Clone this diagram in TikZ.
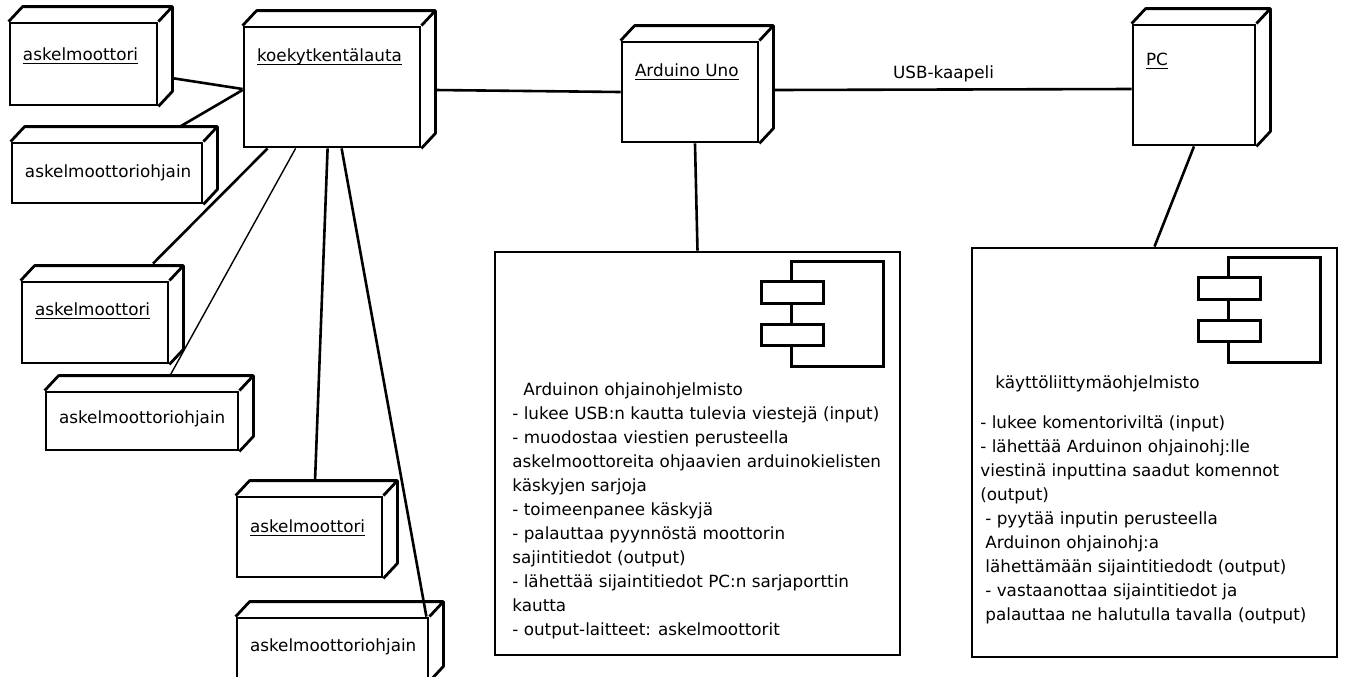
\documentclass[tikz,border=0pt]{standalone}
\usepackage{fontspec}
\setmainfont{DejaVu Sans}
\usepackage{tikz}

\begin{document}
\begin{tikzpicture}[x=0.5pt, y=-0.5pt,
    every node/.style={font=\fontsize{8.4}{12}\selectfont},
    device/.style={rectangle, draw, line width=1.4pt, inner sep=0pt},
    devlabel/.style={anchor=base west, xshift=7pt, yshift=-17.5pt, inner sep=0pt},
    conn/.style={line width=1.3pt},
    thinconn/.style={line width=0.7pt},
    swtext/.style={anchor=north west, align=left, inner sep=0pt}]
    \useasboundingbox (0,0) rectangle (1346,676);

    % Devices
    \node[device, minimum width=73.5pt, minimum height=41pt, label={[devlabel, yshift=-2pt]north west:\underline{\smash{askelmoottori}}}] (MOTOR1) at (83.5,64) {};
    \node[device, minimum width=95pt, minimum height=30pt, label={[devlabel, yshift=-0.5pt]north west:askelmoottoriohjain}] (DRIVER1) at (107,173) {};
    \node[device, minimum width=88pt, minimum height=60pt, label={[devlabel, yshift=-0.5pt]north west:\underline{\smash{koekytkentälauta}}}] (BOARD) at (332,87) {};
    \node[device, minimum width=73pt, minimum height=40.5pt, label={[devlabel]north west:\underline{\smash{askelmoottori}}}] (MOTOR2) at (95,322.5) {};
    \node[device, minimum width=96pt, minimum height=29pt, label={[devlabel, yshift=1pt]north west:askelmoottoriohjain}] (DRIVER2) at (142,421) {};
    \node[device, minimum width=72.5pt, minimum height=40pt, label={[devlabel, yshift=-1pt]north west:\underline{\smash{askelmoottori}}}] (MOTOR3) at (309.5,537) {};
    \node[device, minimum width=95.5pt, minimum height=31pt, label={[devlabel]north west:askelmoottoriohjain}] (DRIVER3) at (332.5,649) {};
    \node[device, minimum width=68pt, minimum height=50pt, label={[devlabel, yshift=-0.5pt]north west:\underline{\smash{Arduino Uno}}}] (ARDUINO) at (690,92) {};
    \node[device, minimum width=61pt, minimum height=60pt, label={[devlabel, yshift=-3.5pt]north west:\underline{\smash{PC}}}] (PC) at (1194,85) {};

    % 3D sides
    \foreach \n in {MOTOR1,DRIVER1,BOARD,MOTOR2,DRIVER2,MOTOR3,DRIVER3,ARDUINO,PC} {
        \draw[line width=1.4pt, line join=round] (\n.north west) -- ++(14,-15) -| ([shift={(14,-15)}]\n.south east) -- (\n.south east)
            (\n.north east) -- ++(14,-15);
    }

    % Software components
    \node[device, minimum width=202.5pt, minimum height=201.5pt] (ARDSW) at (697.5,453.5) {};
    \node[device, minimum width=182.5pt, minimum height=204.5pt] (PCSW) at (1154.5,452.5) {};

    \foreach \sw in {ARDSW,PCSW} {
        \draw[line width=1.4pt] ([shift={(-110,11)}]\sw.north east) rectangle ([shift={(-18,116)}]\sw.north east);
        \draw[line width=1.4pt, fill=white] ([shift={(-140,31)}]\sw.north east) rectangle ([shift={(-78,53)}]\sw.north east);
        \draw[line width=1.4pt, fill=white] ([shift={(-140,74)}]\sw.north east) rectangle ([shift={(-78,95)}]\sw.north east);
    }

    \node[swtext] (ARDTXT) at (512,382) {\hspace*{5.5pt}Arduinon ohjainohjelmisto\\
        - lukee USB:n kautta tulevia viestejä (input)\\
        - muodostaa viestien perusteella\\
        askelmoottoreita ohjaavien arduinokielisten\\
        käskyjen sarjoja\\
        - toimeenpanee käskyjä\\
        - palauttaa pyynnöstä moottorin\\
        sajintitiedot (output)\\
        - lähettää sijaintitiedot PC:n sarjaporttin\\
        kautta\\
        - output-laitteet: askelmoottorit};

    \node[swtext] (PCTXT) at (980,375) {\hspace*{7.5pt}käyttöliittymäohjelmisto\\[8pt]
        - lukee komentoriviltä (input)\\
        - lähettää Arduinon ohjainohj:lle\\
        viestinä inputtina saadut komennot\\
        (output)\\
        \hspace*{2.5pt}- pyytää inputin perusteella\\
        \hspace*{2.5pt}Arduinon ohjainohj:a\\
        \hspace*{2.5pt}lähettämään sijaintitiedodt (output)\\
        \hspace*{2.5pt}- vastaanottaa sijaintitiedot ja\\
        \hspace*{2.5pt}palauttaa ne halutulla tavalla (output)};

    % Connections
    \draw[conn] ([yshift=-1pt]BOARD.west) -- ([xshift=6.5pt,yshift=-7pt]MOTOR1.east);
    \draw[conn] ([yshift=-1.5pt]BOARD.west) -- ([xshift=36.5pt,yshift=7.5pt]DRIVER1.north);
    \draw[conn] ([xshift=12.5pt]BOARD.south west) -- ([xshift=29pt,yshift=8.5pt]MOTOR2.north);
    \draw[thinconn] ([xshift=26.5pt]BOARD.south west) -- ([xshift=14pt,yshift=7.5pt]DRIVER2.north);
    \draw[conn] ([xshift=42.5pt]BOARD.south west) -- ([xshift=2.75pt,yshift=7pt]MOTOR3.north);
    \draw[conn] ([xshift=49.5pt]BOARD.south west) -- ([xshift=-1.5pt]DRIVER3.north east);

    \draw[conn] ([xshift=7pt,yshift=-1.5pt]BOARD.east) -- (ARDUINO.west);
    \draw[conn] ([xshift=7pt,yshift=1pt]ARDUINO.east) -- node[above=0pt, pos=.475] (USB) {USB-kaapeli} ([yshift=-2pt]PC.west);

    \draw[conn] ([xshift=2.5pt]ARDUINO.south) -- (ARDSW.north);
    \draw[conn] (PC.south) -- (PCSW.north);
\end{tikzpicture}
\end{document}
